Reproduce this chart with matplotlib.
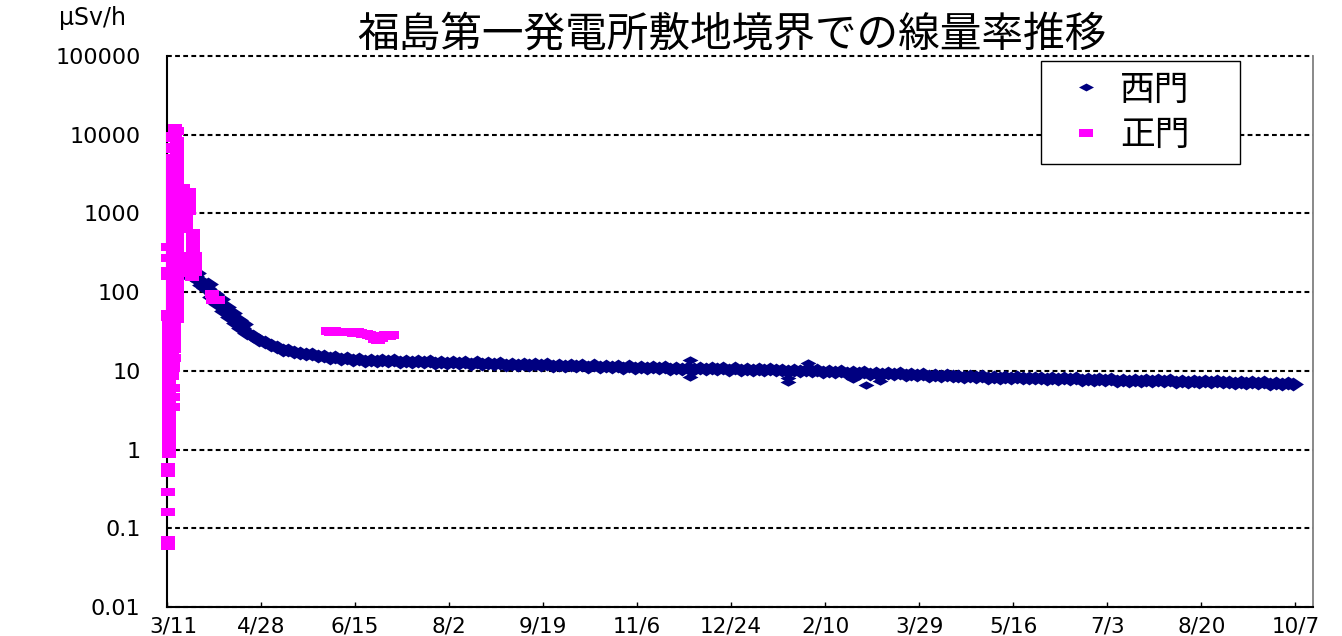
import numpy as np
import matplotlib
matplotlib.use('Agg')
import matplotlib.pyplot as plt
from matplotlib.lines import Line2D
from matplotlib.transforms import ScaledTranslation

# ---------------- data ----------------
title = '福島第一発電所敷地境界での線量率推移'
unit_label = 'μSv/h'
series_names = ['西門', '正門']
x_tick_labels = ['3/11', '4/28', '6/15', '8/2', '9/19', '11/6', '12/24',
                 '2/10', '3/29', '5/16', '7/3', '8/20', '10/7']
tick_step_days = 48          # days between x tick labels (from 2011-03-11)
x_max_day = 585
y_tick_values = [0.01, 0.1, 1, 10, 100, 1000, 10000, 100000]
y_tick_labels = ['0.01', '0.1', '1', '10', '100', '1000', '10000', '100000']

# 西門 (west gate): regular readings every 3 days starting day 8 after 3/11
west_first_day = 8
west_step_days = 3
west_vals = [
    175, 182, 160, 140, 114, 87, 71, 57, 48, 40,
    35.5, 30, 27.8, 24.6, 23.3, 21, 20.2, 18.6, 18.4, 17.2,
    17, 16.2, 16.3, 15.4, 15.5, 14.6, 14.9, 14.2, 14.6, 13.9,
    14.2, 13.5, 13.9, 13.3, 13.7, 13.2, 13.6, 13.1, 13.5, 13.0,
    13.4, 12.8, 13.3, 12.7, 13.1, 12.6, 13.0, 12.5, 12.9, 12.3,
    12.8, 12.2, 12.7, 12.1, 12.5, 12.0, 12.4, 11.9, 12.3, 11.8,
    12.2, 11.7, 12.1, 11.6, 12.0, 11.5, 11.9, 11.4, 11.8, 11.3,
    11.7, 11.2, 11.6, 11.1, 11.5, 11.0, 11.4, 11.0, 11.3, 10.9,
    11.2, 10.8, 11.1, 10.7, 11.0, 10.7, 11.0, 10.6, 10.9, 10.5,
    10.9, 10.5, 10.8, 10.4, 10.8, 10.4, 10.7, 10.3, 10.6, 10.2,
    10.5, 10.2, 10.4, 10.1, 10.3, 10.0, 10.3, 9.9, 10.2, 9.8,
    10.1, 9.7, 10.0, 9.5, 9.8, 9.4, 9.6, 9.2, 9.5, 9.1,
    9.4, 9.0, 9.3, 8.9, 9.1, 8.8, 9.0, 8.7, 8.9, 8.6,
    8.8, 8.5, 8.7, 8.4, 8.6, 8.3, 8.5, 8.2, 8.4, 8.2,
    8.3, 8.1, 8.3, 8.0, 8.2, 8.0, 8.2, 7.9, 8.1, 7.8,
    8.0, 7.8, 8.0, 7.7, 7.9, 7.6, 7.8, 7.6, 7.8, 7.5,
    7.7, 7.5, 7.7, 7.5, 7.6, 7.4, 7.6, 7.4, 7.6, 7.3,
    7.5, 7.3, 7.5, 7.2, 7.4, 7.2, 7.4, 7.2, 7.3, 7.1,
    7.3, 7.1, 7.2, 7.0, 7.2, 6.9, 7.1, 6.9, 7.0, 6.9,
]
west_early_days = [10, 12, 15, 18, 21, 24, 27, 30, 33, 36, 39]
west_early_vals = [195, 165, 175, 125, 126, 96, 82, 64, 55, 44, 39]
west_spike_days = [267, 267, 317, 317, 327, 350, 357, 364]
west_spike_vals = [13.6, 8.3, 8.0, 7.3, 12.6, 7.9, 6.6, 7.5]

# 正門 (main gate): (day after 3/11, value)
main_days = [
    0.5, 0.5, 0.6, 0.6, 0.6, 0.6,
    0.8, 0.8, 0.8, 0.8, 0.8, 0.8,
    0.8, 0.8, 0.8, 0.8, 0.8, 0.8, 0.8, 0.8,
    3.0, 3.0, 3.0, 2.5, 3.0, 3.3,
    0.8, 0.8, 0.8, 0.8, 0.8, 0.8, 0.8,
    2.5, 2.5, 2.5, 2.5, 2.5,
    3.8, 3.8, 3.8, 3.8, 3.8,
    0.5, 0.5, 0.5, 0.5, 0.5, 0.5,
    4.0, 4.0, 3.3, 5.0, 3.3, 5.0, 3.3, 5.0, 3.3, 5.0,
    3.3, 5.0, 3.3, 5.0, 3.3, 5.0, 3.3, 5.0, 3.3, 5.0,
    3.3, 5.0, 3.3, 5.0, 3.3, 5.0, 3.3, 5.0, 3.3, 5.0,
    3.3, 5.0, 3.3, 5.0, 3.3, 5.0, 3.3,
    5.0, 3.3, 5.0, 3.3, 5.0, 3.3, 5.0, 3.3, 5.0, 3.3,
    5.0, 3.3, 5.0, 3.3, 5.0, 3.3, 5.0, 3.3, 5.0, 3.3,
    5.0, 3.3, 5.0, 3.3, 5.0, 3.3, 5.0, 3.3, 5.0, 3.3,
    5.0, 3.3, 5.0, 3.3, 5.0, 3.3, 5.0,
    11.2, 11.2, 11.2, 11.2,
    9.5, 9.5, 9.5, 8.0, 8.0,
    13.5, 13.5, 13.5, 13.5,
    11.0, 14.5, 11.0, 14.5, 11.0, 14.5, 11.5, 14.5, 13.0,
    23.0, 23.5, 26.0,
    82, 83.5, 85, 86.5, 88, 89.5, 91, 92.5, 94, 95.5, 97, 98.5,
    100, 101.5, 103, 104.5, 106, 107.5, 109, 110.5, 112, 113.5, 115,
]
main_vals = [
    0.059, 0.07, 0.16, 0.29, 0.5, 0.6,
    0.88, 1.05, 1.25, 1.5, 1.8, 2.1,
    2.7, 3.3, 4.0, 5.0, 6.1, 7.5, 9.2, 11.3,
    3.5, 4.6, 6.0, 8.5, 11, 12.8,
    14, 17.5, 22, 27, 33, 40, 46,
    16, 20, 26, 34, 44,
    14.5, 19, 24, 30, 38,
    48, 52, 160, 185, 275, 370,
    12000, 10400, 9000, 7600, 6500, 5500, 4700, 4000, 3400, 2900,
    2500, 2150, 1850, 1600, 1380, 1180, 1000, 870, 740, 640,
    550, 470, 400, 345, 295, 255, 220, 190, 163, 140,
    120, 103, 88, 76, 65, 56, 48,
    11200, 9700, 8300, 7000, 6000, 5100, 4350, 3700, 3150, 2700,
    2300, 2000, 1720, 1480, 1280, 1090, 930, 800, 690, 590,
    510, 435, 370, 320, 275, 235, 205, 176, 150, 130,
    111, 95, 82, 70, 60, 52, 45,
    1870, 1540, 1270, 1070,
    900, 760, 640, 2100, 1500,
    560, 470, 400, 340,
    290, 290, 245, 245, 205, 210, 175, 180, 155,
    96, 80, 79,
    31.8, 31.2, 31.8, 31.3, 31.6, 31.0, 31.4, 30.8, 31.2, 30.6, 30.8, 30.3,
    29.8, 29.0, 28.6, 27.5, 25.5, 25.0, 26.5, 27.8, 28.3, 28.0, 28.4,
]

# ---------------- styling ----------------
navy = '#000080'
magenta = '#FF00FF'
cjk = ['Noto Sans CJK JP', 'DejaVu Sans']

fig = plt.figure(figsize=(13.42, 6.36), dpi=100)
ax = fig.add_axes([167 / 1342, 29 / 636, (1313 - 167) / 1342, (607 - 56) / 636])

west_days = west_first_day + west_step_days * np.arange(len(west_vals))
wx = np.concatenate([west_early_days, west_days])
wy = np.concatenate([west_early_vals, west_vals])

band_diamond = [(0, 1), (1.5, 0), (0, -1), (-1.5, 0)]
diamond = [(0, 1), (1.9, 0), (0, -1), (-1.9, 0)]
rect = [(-1.6, -1), (1.6, -1), (1.6, 1), (-1.6, 1)]

ax.plot(wx, wy, linestyle='none', marker=band_diamond, ms=15, mew=0,
        color=navy, zorder=3, clip_on=False)
ax.plot(west_spike_days, west_spike_vals, linestyle='none', marker=diamond,
        ms=11.5, mew=0, color=navy, zorder=3, clip_on=False)
ax.plot(main_days, main_vals, linestyle='none', marker=rect, ms=10.3, mew=0,
        color=magenta, zorder=4, clip_on=False)

ax.set_yscale('log')
ax.set_ylim(y_tick_values[0], y_tick_values[-1])
ax.set_xlim(0, x_max_day)

ax.set_yticks(y_tick_values)
ax.set_yticklabels(y_tick_labels)
ax.yaxis.set_minor_locator(matplotlib.ticker.NullLocator())
ax.set_xticks(np.arange(len(x_tick_labels)) * tick_step_days)
ax.set_xticklabels(x_tick_labels)

ax.tick_params(axis='y', length=0, pad=19, labelsize=16, labelcolor='black')
ax.tick_params(axis='x', direction='in', length=3.5, width=1, pad=7,
               labelsize=15.5)
for lab in ax.get_xticklabels() + ax.get_yticklabels():
    lab.set_fontfamily('DejaVu Sans')
first = ax.get_xticklabels()[0]
first.set_transform(first.get_transform() +
                    ScaledTranslation(6 / 100, 0, fig.dpi_scale_trans))

ax.yaxis.grid(True, color='black', linewidth=1.5, linestyle=(0, (2.3, 1.6)))
for gl in ax.get_ygridlines():
    gl.set_clip_on(False)
ax.set_axisbelow(True)

ax.spines['top'].set_visible(False)
ax.spines['right'].set_color('#808080')
ax.spines['right'].set_linewidth(1.3)
ax.spines['left'].set_linewidth(1.5)
ax.spines['bottom'].set_linewidth(1.5)

fig.text(0.545, 0.945, title, ha='center', va='center', fontsize=30,
         family=cjk)
fig.text(0.0686, 0.972, unit_label, ha='center', va='center', fontsize=17,
         family='DejaVu Sans')

handles = [
    Line2D([], [], linestyle='none', marker=diamond, ms=10.8, mew=0, color=navy),
    Line2D([], [], linestyle='none',
           marker=[(-1.85, -1), (1.85, -1), (1.85, 1), (-1.85, 1)],
           ms=9.4, mew=0, color=magenta),
]
leg = ax.legend(handles, series_names, loc='upper left',
                bbox_to_anchor=(1041 / 1342, 1 - 160 / 636, 199 / 1342, 99 / 636),
                bbox_transform=fig.transFigure, mode='expand',
                borderaxespad=0, borderpad=0.33, handlelength=1.95,
                handletextpad=0.0, labelspacing=0.3,
                prop={'family': cjk, 'size': 25}, fancybox=False,
                frameon=True, edgecolor='black', framealpha=1)
leg.get_frame().set_linewidth(1.0)

fig.savefig('out.png', dpi=100, facecolor='white')
